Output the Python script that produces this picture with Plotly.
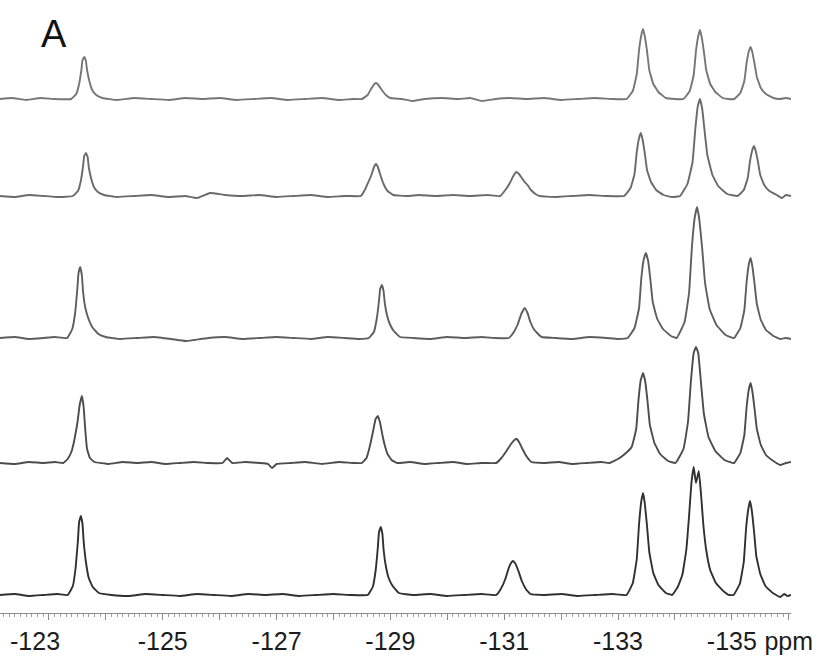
import plotly.graph_objects as go

# ---------------- data (chemical shift in ppm, intensity in arbitrary units) ----------------
PPM_1 = [-122.14, -122.35, -122.60, -122.85, -123.10,
         -123.39, -123.48, -123.53, -123.57, -123.59, -123.62, -123.65, -123.67, -123.71, -123.76, -123.83, -123.94,
         -124.20, -124.50, -124.80, -125.10, -125.40, -125.70, -126.00, -126.30, -126.60, -126.90, -127.20, -127.50, -127.80, -128.10, -128.35,
         -128.50, -128.60, -128.66, -128.72, -128.75, -128.79, -128.85, -128.92, -129.00,
         -129.20, -129.38, -129.60, -129.90, -130.20, -130.40, -130.61, -130.85, -131.10, -131.40, -131.70, -132.00, -132.30, -132.60, -132.90,
         -133.15, -133.26, -133.33, -133.37, -133.41, -133.44, -133.47, -133.51, -133.55, -133.62, -133.71, -133.84,
         -134.00,
         -134.15, -134.26, -134.33, -134.37, -134.41, -134.44, -134.47, -134.51, -134.55, -134.62, -134.71, -134.84,
         -134.94,
         -135.04, -135.15, -135.22, -135.26, -135.30, -135.33, -135.36, -135.40, -135.44, -135.51, -135.60, -135.73,
         -135.85, -135.95, -136.04]
INT_1 = [0, 1, -1, 1, 0,
         0, 5, 15, 29, 39, 42, 38, 29, 18, 9, 4, 1,
         -1, 1, 0, -1, 1, 0, 1, -1, 0, 1, -1, 0, 1, -1, 0,
         0, 4, 10, 15, 16, 14, 9, 4, 1,
         0, -2, 0, 1, 0, 1, -2, 0, 1, 0, 1, -1, 0, 1, 0,
         0, 8, 25, 49, 64, 70, 63, 48, 29, 15, 7, 1,
         0,
         0, 8, 24, 48, 63, 69, 62, 47, 29, 15, 7, 1,
         0,
         0, 6, 18, 36, 48, 52, 47, 35, 22, 11, 5, 1,
         0, 1, 0]

PPM_2 = [-122.14, -122.40, -122.65, -122.90, -123.15,
         -123.42, -123.51, -123.56, -123.60, -123.62, -123.65, -123.68, -123.70, -123.74, -123.79, -123.86, -123.97,
         -124.20, -124.50, -124.80, -125.10, -125.40, -125.60, -125.83, -126.10, -126.40, -126.70, -127.00, -127.30, -127.60, -127.90, -128.20,
         -128.48, -128.55, -128.59, -128.66, -128.72, -128.75, -128.78, -128.83, -128.88, -128.95, -129.05,
         -129.30, -129.50, -129.80, -130.10, -130.40, -130.70,
         -130.93, -131.02, -131.10, -131.16, -131.21, -131.26, -131.31, -131.36, -131.41, -131.47, -131.55, -131.62,
         -131.90, -132.20, -132.50, -132.80,
         -133.11, -133.22, -133.29, -133.33, -133.37, -133.40, -133.43, -133.47, -133.51, -133.58, -133.67, -133.80,
         -133.95,
         -134.09, -134.22, -134.31, -134.36, -134.40, -134.44, -134.48, -134.52, -134.57, -134.66, -134.76, -134.92,
         -135.10, -135.21, -135.28, -135.32, -135.36, -135.39, -135.42, -135.46, -135.50, -135.57, -135.66, -135.79,
         -135.88, -135.95, -136.04]
INT_2 = [0, -1, 1, 0, -1,
         0, 5, 15, 30, 40, 43, 39, 29, 18, 9, 4, 1,
         -1, 0, 1, -1, 0, -2, 3, 1, 0, 1, -1, 0, 1, -1, 0,
         0, 6, 11, 20, 30, 32, 29, 20, 12, 5, 1,
         0, 1, 0, 1, 0, 1,
         0, 6, 13, 20, 24, 22, 18, 14, 11, 6, 2, 0,
         -1, 0, 1, 0,
         0, 8, 22, 44, 58, 63, 57, 43, 26, 14, 6, 1,
         -1,
         0, 12, 34, 68, 89, 97, 87, 66, 41, 21, 10, 2,
         0, 6, 18, 35, 46, 50, 45, 34, 21, 11, 5, 1,
         -2, 1, 0]

PPM_3 = [-122.14, -122.40, -122.65, -122.90, -123.10,
         -123.32, -123.41, -123.46, -123.50, -123.52, -123.55, -123.58, -123.60, -123.64, -123.69, -123.76, -123.87, -124.00,
         -124.25, -124.55, -124.85, -125.15, -125.40, -125.55, -125.80, -126.10, -126.40, -126.70, -127.00, -127.30, -127.60, -127.90, -128.20, -128.45,
         -128.62, -128.71, -128.76, -128.80, -128.82, -128.85, -128.88, -128.90, -128.94, -128.99, -129.06, -129.17,
         -129.40, -129.70, -130.00, -130.30, -130.60, -130.85,
         -131.08, -131.17, -131.24, -131.30, -131.36, -131.41, -131.46, -131.52, -131.58, -131.66,
         -131.90, -132.20, -132.50, -132.80, -133.00,
         -133.17, -133.29, -133.37, -133.41, -133.45, -133.49, -133.53, -133.57, -133.61, -133.69, -133.79, -133.93,
         -134.03, -134.17, -134.25, -134.30, -134.35, -134.39, -134.43, -134.48, -134.53, -134.61, -134.73, -134.89,
         -135.04, -135.15, -135.22, -135.26, -135.30, -135.33, -135.36, -135.40, -135.44, -135.51, -135.60, -135.73,
         -135.85, -135.95, -136.04]
INT_3 = [0, 1, -1, 0, 1,
         0, 9, 25, 50, 65, 71, 62, 46, 30, 20, 11, 4, 1,
         -1, 0, 1, -1, -3, -2, 0, 1, -1, 0, 1, 0, -1, 1, 0, -1,
         0, 6, 19, 37, 49, 53, 47, 36, 23, 14, 7, 1,
         0, -1, 1, 0, 1, 0,
         0, 6, 14, 24, 30, 25, 16, 9, 5, 1,
         0, -1, 1, 0, -1,
         0, 10, 30, 60, 78, 85, 77, 58, 36, 19, 9, 2,
         0, 16, 46, 92, 121, 131, 118, 89, 55, 29, 13, 3,
         0, 10, 28, 56, 74, 80, 72, 54, 34, 18, 8, 2,
         -1, 0, -1]

PPM_4 = [-122.14, -122.40, -122.65, -122.90, -123.10,
         -123.25, -123.33, -123.40, -123.45, -123.50, -123.54, -123.58, -123.61, -123.64, -123.67, -123.72, -123.80,
         -124.05, -124.30, -124.55, -124.80, -125.05, -125.30, -125.55, -125.80, -126.05, -126.13, -126.22, -126.45, -126.70, -126.85, -126.92, -127.00, -127.25, -127.50, -127.80, -128.10, -128.35,
         -128.50, -128.58, -128.64, -128.70, -128.74, -128.78, -128.82, -128.86, -128.90, -128.95, -129.02, -129.12,
         -129.35, -129.60, -129.85, -130.10, -130.35, -130.60,
         -130.86, -130.95, -131.04, -131.12, -131.18, -131.22, -131.27, -131.33, -131.40, -131.48,
         -131.70, -131.95, -132.20, -132.45, -132.70,
         -132.85, -133.00, -133.12, -133.24, -133.32, -133.36, -133.40, -133.44, -133.48, -133.52, -133.56, -133.64, -133.74, -133.88,
         -134.01, -134.15, -134.23, -134.28, -134.33, -134.37, -134.41, -134.46, -134.51, -134.59, -134.71, -134.87,
         -135.04, -135.15, -135.22, -135.26, -135.30, -135.33, -135.36, -135.40, -135.44, -135.51, -135.60, -135.73,
         -135.85, -135.95, -136.04]
INT_4 = [0, -1, 1, 0, 1,
         0, 4, 12, 24, 40, 58, 67, 56, 32, 14, 5, 1,
         -1, 1, 0, 1, -1, 0, 1, 0, 0, 5, 0, 1, 0, -1, -5, -1, 0, 1, -1, 1, 0,
         0, 5, 17, 33, 44, 47, 40, 28, 18, 9, 3, 0,
         1, -1, 0, 1, -1, 0,
         0, 5, 12, 19, 23, 24, 20, 13, 6, 1,
         0, 1, -1, 0, 1,
         0, 4, 9, 16, 34, 63, 83, 90, 81, 61, 38, 20, 9, 2,
         0, 14, 41, 81, 110, 116, 110, 79, 49, 26, 12, 3,
         0, 10, 28, 56, 74, 80, 72, 54, 34, 18, 8, 2,
         -2, 0, 1]

PPM_5 = [-122.14, -122.40, -122.65, -122.90, -123.15,
         -123.33, -123.42, -123.47, -123.51, -123.53, -123.56, -123.59, -123.61, -123.65, -123.70, -123.77, -123.88,
         -124.10, -124.40, -124.70, -125.00, -125.30, -125.60, -125.90, -126.20, -126.50, -126.80, -127.10, -127.40, -127.70, -128.00, -128.30,
         -128.60, -128.69, -128.74, -128.78, -128.80, -128.83, -128.86, -128.88, -128.92, -128.97, -129.04, -129.15,
         -129.40, -129.70, -130.00, -130.30, -130.60,
         -130.86, -130.94, -131.02, -131.08, -131.12, -131.15, -131.19, -131.25, -131.31, -131.38, -131.46,
         -131.70, -132.00, -132.30, -132.60, -132.90,
         -133.15, -133.26, -133.33, -133.37, -133.41, -133.44, -133.47, -133.51, -133.55, -133.62, -133.71, -133.84,
         -133.95, -134.05, -134.13, -134.20, -134.25, -134.29, -134.33, -134.37, -134.42, -134.46, -134.50, -134.55, -134.62, -134.72, -134.85, -134.95,
         -135.03, -135.14, -135.21, -135.25, -135.29, -135.32, -135.35, -135.39, -135.43, -135.50, -135.59, -135.72,
         -135.85, -135.92, -135.98, -136.04]
INT_5 = [0, 1, -1, 0, 1,
         0, 9, 28, 55, 73, 79, 71, 54, 33, 17, 8, 2,
         0, -1, 1, 0, -1, 1, 0, -1, 1, 0, 1, -1, 0, 1, 0,
         0, 8, 24, 48, 63, 68, 61, 46, 29, 17, 9, 2,
         0, 1, -1, 0, 1,
         0, 6, 16, 27, 32, 34, 32, 24, 14, 6, 1,
         0, 1, -1, 0, 1,
         0, 12, 36, 71, 94, 102, 92, 69, 43, 22, 10, 2,
         0, 8, 20, 45, 80, 112, 128, 112, 124, 100, 70, 45, 25, 12, 4, 0,
         0, 11, 33, 66, 86, 94, 85, 64, 39, 21, 9, 2,
         -2, 1, -1, 0]

TICK_VALUES = [-123, -124, -125, -126, -127, -128, -129, -130, -131, -132, -133, -134, -135, -136]
TICK_LABELS = ["-123", "", "-125", "", "-127", "", "-129", "", "-131", "", "-133", "", "-135", "ppm"]
PANEL_LABEL = "A"

# ---------------- styling ----------------
SPECTRA = [(PPM_1, INT_1), (PPM_2, INT_2), (PPM_3, INT_3), (PPM_4, INT_4), (PPM_5, INT_5)]
# vertical stacking: each spectrum gets its own overlaid y axis, range shifted so baselines stack
STACK_RANGES = [[-514, 99], [-417, 196], [-275, 338], [-150, 463], [-18, 595]]
COLORS = ["#767676", "#6a6a6a", "#5e5e5e", "#4c4c4c", "#303030"]

# the first label sits a little left of its tick in the original figure
shown_labels = [lab + "\u00a0" * 4 if lab == "-123" else lab for lab in TICK_LABELS]

fig = go.Figure()
for i, ((x, y), col) in enumerate(zip(SPECTRA, COLORS)):
    assert len(x) == len(y), (i, len(x), len(y))
    yref = "y" if i == 0 else f"y{i + 1}"
    fig.add_trace(go.Scatter(x=x, y=y, mode="lines", yaxis=yref,
                             line=dict(color=col, width=1.9, shape="spline", smoothing=0.3),
                             hoverinfo="skip", showlegend=False))

layout_axes = {}
for i, rng in enumerate(STACK_RANGES):
    key = "yaxis" if i == 0 else f"yaxis{i + 1}"
    ax = dict(range=rng, visible=False, showgrid=False, zeroline=False, fixedrange=True)
    if i > 0:
        ax["overlaying"] = "y"
    layout_axes[key] = ax

fig.update_layout(
    width=827, height=662,
    margin=dict(l=0, r=36, t=0, b=49),
    paper_bgcolor="white", plot_bgcolor="white",
    xaxis=dict(
        range=[-122.14, -136.04],
        tickmode="array", tickvals=TICK_VALUES, ticktext=shown_labels,
        ticks="outside", ticklen=6, tickwidth=1, tickcolor="#8c8c8c",
        showline=True, linecolor="#8c8c8c", linewidth=1,
        showgrid=False, zeroline=False,
        tickfont=dict(family="Liberation Sans, Arial, sans-serif", size=25, color="#1c1c1c"),
        minor=dict(tickmode="linear", tick0=-136, dtick=0.1, ticks="outside",
                   ticklen=3, tickwidth=1, tickcolor="#a0a0a0", showgrid=False),
    ),
    annotations=[dict(text=PANEL_LABEL, x=0.068, y=0.945, xref="paper", yref="paper",
                      xanchor="center", yanchor="middle", showarrow=False,
                      font=dict(family="Liberation Sans, Arial, sans-serif", size=38, color="#111111"))],
    **layout_axes,
)

fig.write_html("out.html", config={"displayModeBar": False},
               post_script="document.body.style.margin='0';document.body.style.overflow='hidden';")
